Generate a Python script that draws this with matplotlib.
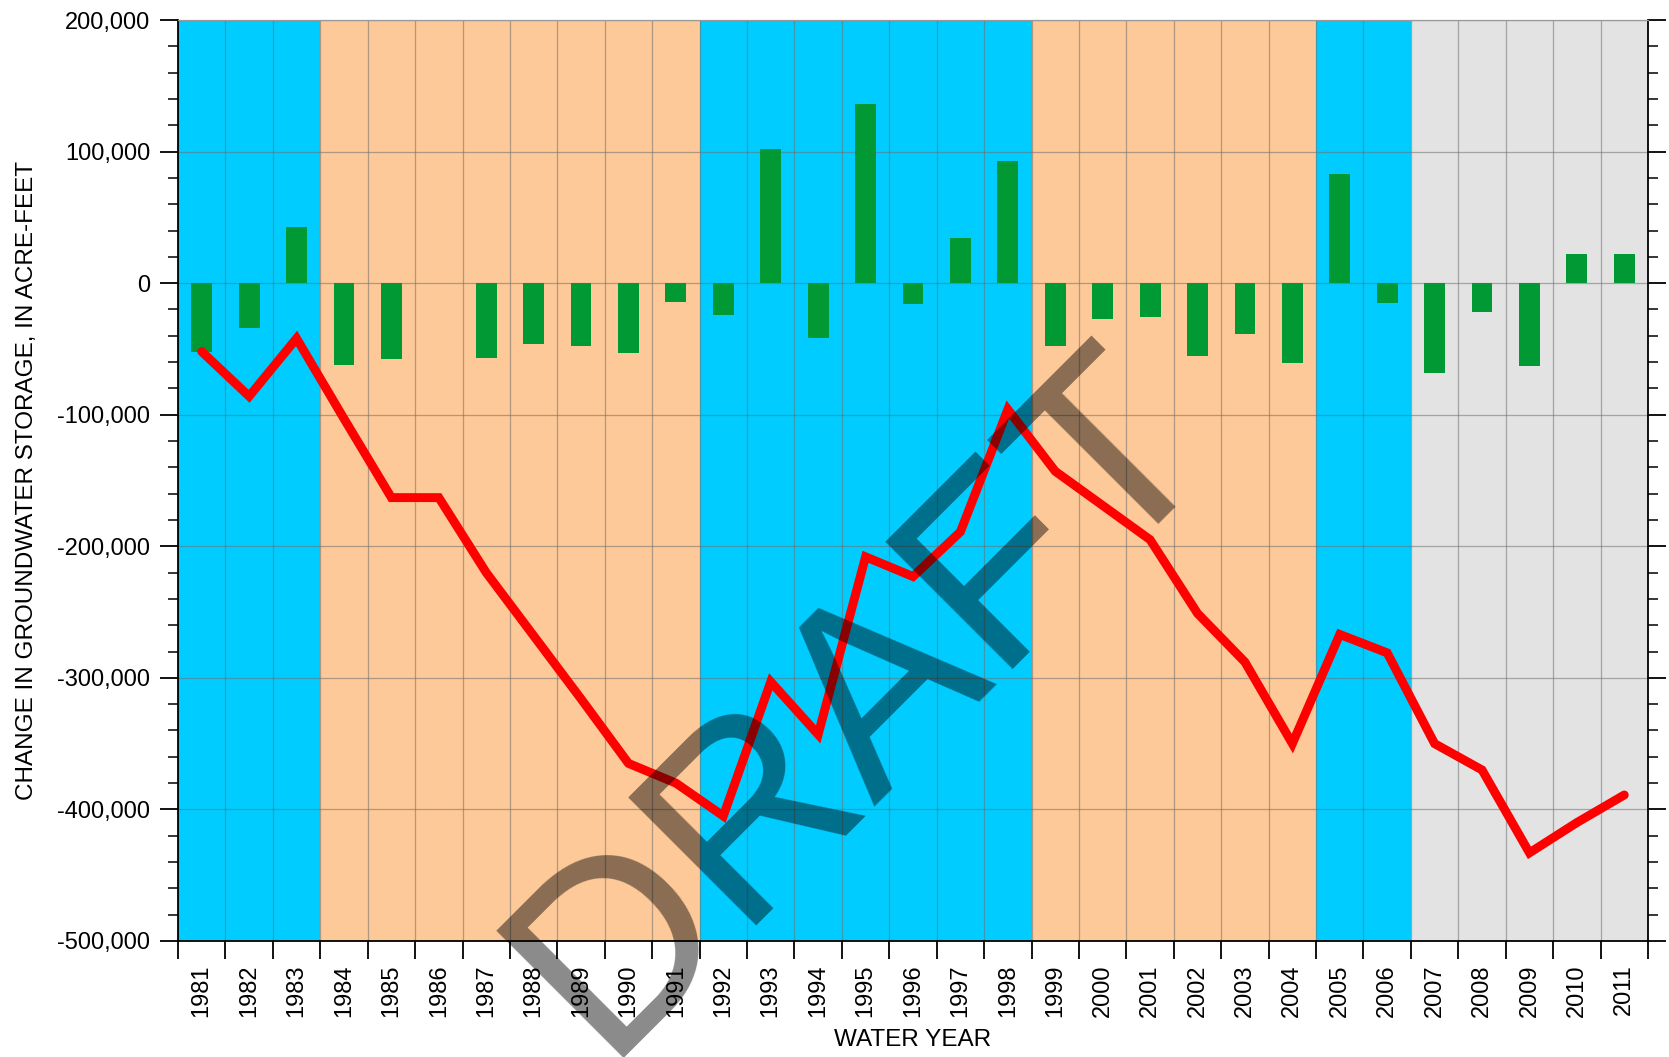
import numpy as np
import matplotlib
matplotlib.use('Agg')
import matplotlib.pyplot as plt
from matplotlib.ticker import FixedLocator, NullFormatter

plt.rcParams['font.family'] = ['Liberation Sans', 'DejaVu Sans']

# water years and annual change in storage (acre-feet)
years = list(range(1981, 2012))
annual_change = [-52000, -34000, 43000, -62000, -58000, 0, -57000, -46000, -48000, -53000,
                 -14000, -24000, 102000, -42000, 136000, -16000, 34000, 93000, -48000, -27000,
                 -26000, -55000, -39000, -61000, 83000, -15000, -68000, -22000, -63000, 22000,
                 22000]
# cumulative change (acre-feet)
cumulative = [-52000, -86000, -42000, -103000, -163000, -163000, -220000, -268000, -316000, -365000,
              -380000, -405000, -303000, -343000, -208000, -223000, -189000, -96000, -143000, -169000,
              -195000, -251000, -288000, -350000, -267000, -281000, -350000, -370000, -433000, -410000,
              -389000]

# wet / dry / unclassified periods
period_start = [1981, 1984, 1992, 1999, 2005, 2007]
period_end = [1983, 1991, 1998, 2004, 2006, 2011]
period_type = ['wet', 'dry', 'wet', 'dry', 'wet', 'other']

ytick_vals = [200000, 100000, 0, -100000, -200000, -300000, -400000, -500000]
ytick_labels = ['200,000', '100,000', '0', '-100,000', '-200,000', '-300,000', '-400,000', '-500,000']

colores = {'wet': '#00CCFF', 'dry': '#FDC998', 'other': '#E3E3E3'}

fig = plt.figure(figsize=(16.69, 10.57), dpi=100)
ax = fig.add_axes([178/1669, 1 - 941/1057, 1470/1669, 921/1057])

for s, e, t in zip(period_start, period_end, period_type):
    ax.axvspan(s - 0.5, e + 0.5, color=colores[t], lw=0, zorder=0.2)

# grid lines
for b in np.arange(years[0] - 0.5, years[-1] + 1.0, 1.0):
    ax.axvline(b, color='#6f6f6f', lw=0.9, alpha=0.55, zorder=0.5)
for v in ytick_vals:
    ax.axhline(v, color='#6f6f6f', lw=0.9, alpha=0.55, zorder=0.5)

ax.bar(years, annual_change, width=0.44, color='#009933', zorder=2)
ax.plot(years, cumulative, color='#FF0000', lw=6.4, solid_joinstyle='miter',
        solid_capstyle='round', zorder=3)

ax.set_xlim(years[0] - 0.5, years[-1] + 0.5)
ax.set_ylim(-500000, 200000)

# x: ticks at year boundaries, labels at centres
ax.xaxis.set_major_locator(FixedLocator(np.arange(years[0] - 0.5, years[-1] + 1.0, 1.0)))
ax.xaxis.set_major_formatter(NullFormatter())
ax.xaxis.set_minor_locator(FixedLocator(years))
ax.set_xticklabels([str(y) for y in years], minor=True, rotation=90, fontsize=17)
ax.tick_params(axis='x', which='major', direction='out', length=13, width=1.3)
ax.tick_params(axis='x', which='minor', length=0, pad=17)

ax.set_yticks(ytick_vals)
ax.set_yticklabels(ytick_labels, fontsize=17)
ax.yaxis.set_minor_locator(FixedLocator(np.arange(-500000, 200001, 20000)))
ax.tick_params(axis='y', which='major', direction='out', length=13, width=1.3,
               left=True, right=True, pad=7)
ax.tick_params(axis='y', which='minor', direction='out', length=7, width=1.1,
               left=True, right=True)

for sp in ['left', 'right', 'bottom']:
    ax.spines[sp].set_linewidth(1.3)
ax.spines['top'].set_color('#9a9a9a')
ax.spines['top'].set_linewidth(0.9)

ax.set_ylabel('CHANGE IN GROUNDWATER STORAGE, IN ACRE-FEET', fontsize=17.5, va='center')
ax.yaxis.set_label_coords(-0.1027, 0.5)
ax.set_xlabel('WATER YEAR', fontsize=17.5, va='center')
ax.xaxis.set_label_coords(0.5, -0.107)

# marca de agua
fig.text(0.545, 0.2905, 'DRAFT', fontsize=188, rotation=45, rotation_mode='anchor',
         ha='center', va='baseline', color='black', alpha=0.46, zorder=10)

plt.savefig('out.png', dpi=100)
